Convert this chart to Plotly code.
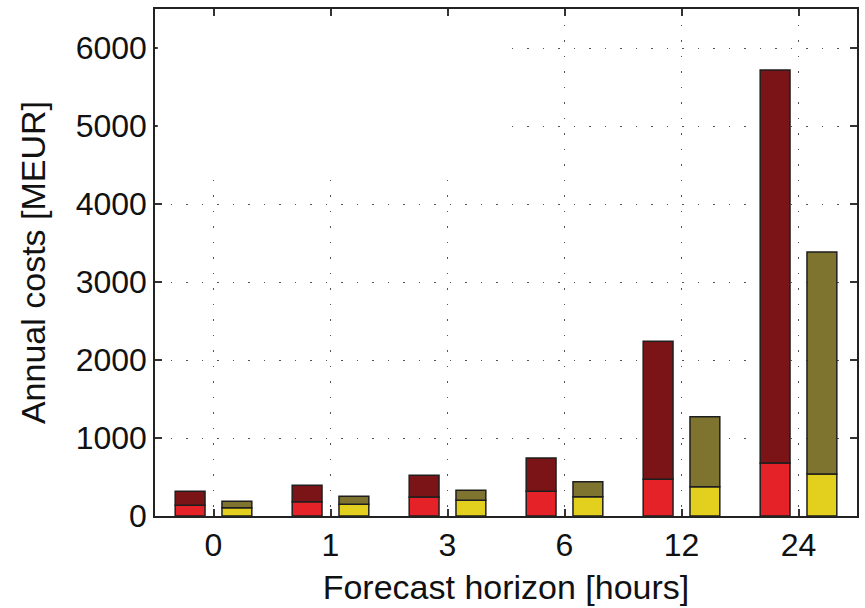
import plotly.graph_objects as go

horizons = ["0", "1", "3", "6", "12", "24"]
red_base = [137, 183, 243, 316, 470, 679]
red_total = [317, 393, 521, 744, 2240, 5718]
yellow_base = [106, 150, 201, 248, 376, 538]
yellow_total = [188, 252, 329, 440, 1273, 3385]

idx = list(range(len(horizons)))
red_top = [t - b for t, b in zip(red_total, red_base)]
yellow_top = [t - b for t, b in zip(yellow_total, yellow_base)]

edge = dict(color="#1e1e1e", width=1.5)
w = 0.255
xr = [i - 0.2 for i in idx]
xy = [i + 0.2 for i in idx]

fig = go.Figure()
fig.add_bar(x=xr, y=red_base, width=w, marker=dict(color="#E52228", line=edge), showlegend=False)
fig.add_bar(x=xr, y=red_top, width=w, marker=dict(color="#7A1416", line=edge), showlegend=False)
fig.add_bar(x=xy, y=yellow_base, width=w, marker=dict(color="#E2CF1E", line=edge), showlegend=False)
fig.add_bar(x=xy, y=yellow_top, width=w, marker=dict(color="#7F7330", line=edge), showlegend=False)

font = dict(family="Liberation Sans, Arial, sans-serif", size=32, color="#111")

fig.update_layout(
    barmode="relative",
    width=865, height=608,
    margin=dict(l=155, r=6, t=9, b=92),
    paper_bgcolor="white", plot_bgcolor="white",
    font=font,
    shapes=[dict(type="rect", xref="paper", yref="paper", x0=0.004, x1=0.502, y0=0.676, y1=0.984,
                 fillcolor="white", line=dict(width=0), layer="above")],
)
fig.update_xaxes(
    range=[-0.5, 5.5], tickvals=idx, ticktext=horizons,
    showline=True, linecolor="#222", linewidth=1.5, mirror="ticks",
    ticks="inside", ticklen=7, tickwidth=1.5, tickcolor="#333",
    showgrid=True, gridcolor="#555", gridwidth=1, griddash="1.5px,14px",
    title=dict(text="Forecast horizon [hours]", standoff=13, font=dict(size=34)),
    tickfont=dict(size=32), zeroline=False,
)
fig.update_yaxes(
    range=[0, 6500], tickvals=[0, 1000, 2000, 3000, 4000, 5000, 6000],
    showline=True, linecolor="#222", linewidth=1.5, mirror="ticks",
    ticks="inside", ticklen=7, tickwidth=1.5, tickcolor="#333",
    showgrid=True, gridcolor="#555", gridwidth=1, griddash="1.5px,14px",
    title=dict(text="Annual costs [MEUR]", standoff=20, font=dict(size=34)),
    tickfont=dict(size=32), zeroline=False,
)

fig.write_html("out.html")
